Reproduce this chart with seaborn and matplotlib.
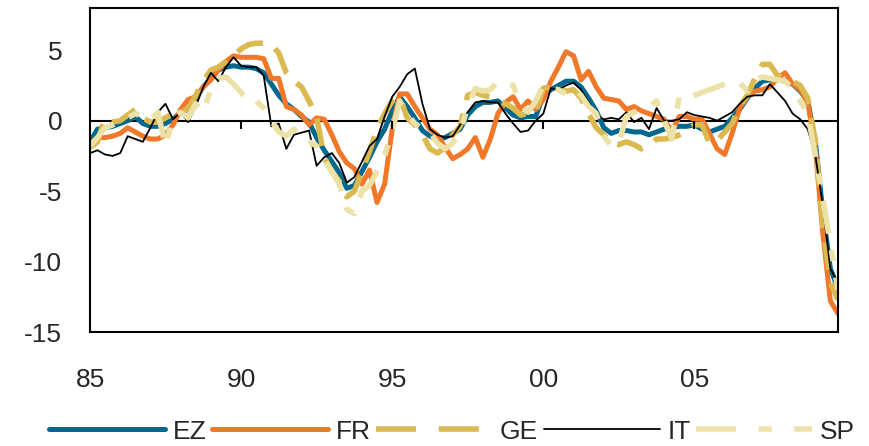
import numpy as np
import pandas as pd
import matplotlib
matplotlib.use('Agg')
import matplotlib.pyplot as plt
from matplotlib.lines import Line2D
import seaborn as sns

# quarterly data, 1985Q1 - 2009Q4
quarters = pd.date_range('1985-01-01', periods=100, freq='QS')
series_names = ['EZ', 'FR', 'GE', 'IT', 'SP']

ez = [-1.5, -0.6, -0.5, -0.4, -0.2, 0.0, 0.3, -0.2, -0.4, -0.4,
      -0.2, 0.1, 0.6, 0.8, 1.6, 2.4, 3.0, 3.6, 3.8, 3.9,
      3.8, 3.8, 3.7, 3.4, 2.6, 1.8, 1.2, 0.8, 0.3, -0.1,
      -1.2, -2.1, -2.9, -3.7, -4.8, -4.6, -3.6, -2.6, -1.5, -0.6,
      0.7, 1.7, 1.0, 0.2, -0.7, -1.1, -1.3, -1.2, -0.9, -0.6,
      0.4, 1.0, 1.3, 1.3, 1.4, 0.9, 0.4, 0.2, 0.3, 0.3,
      1.8, 2.2, 2.5, 2.8, 2.8, 2.4, 1.6, 0.7, -0.5, -0.9,
      -0.7, -0.7, -0.8, -0.8, -1.0, -0.8, -0.6, -0.5, -0.4, -0.4,
      -0.3, -0.6, -0.8, -0.6, -0.4, 0.2, 0.8, 1.6, 2.3, 2.8,
      2.9, 2.9, 2.8, 2.6, 2.1, 1.4, -1.5, -6.5, -10.5, -11.9]

fr = [-1.6, -1.2, -1.2, -1.1, -0.9, -0.5, -0.8, -1.1, -1.3, -1.3,
      -1.0, -0.3, 0.8, 1.5, 1.7, 2.4, 2.9, 3.6, 4.2, 4.6,
      4.5, 4.5, 4.5, 4.4, 3.0, 3.0, 1.0, 0.8, 0.4, -0.3,
      0.2, 0.1, -1.0, -2.2, -3.0, -3.4, -4.5, -3.5, -5.8, -4.5,
      -0.6, 1.9, 1.9, 1.0, 0.2, -0.6, -1.0, -1.9, -2.7, -2.4,
      -2.0, -1.2, -2.6, -1.3, 0.5, 1.3, 1.7, 0.8, 1.4, 0.8,
      1.5, 2.8, 3.8, 4.9, 4.6, 2.9, 3.5, 2.4, 1.6, 1.5,
      1.4, 0.8, 1.0, 0.7, 0.5, 0.3, 0.1, -0.8, 0.3, 0.3,
      0.1, 0.1, -0.9, -2.0, -2.4, -0.9, 0.9, 1.7, 2.1, 2.2,
      2.4, 3.0, 3.4, 2.6, 2.2, 1.3, -2.0, -8.0, -12.8, -13.7]

ge = [-1.9, -1.5, 0.2, -0.1, 0.0, 0.4, 0.8, 0.2, -0.1, -0.1,
      0.2, 0.5, 0.7, 0.8, 1.8, 2.8, 3.6, 3.8, 4.2, 4.6,
      5.1, 5.4, 5.5, 5.5, 5.4, 4.8, 3.4, 2.8, 2.4, 1.4,
      0.3, -2.6, -3.6, -4.3, -5.4, -5.0, -3.6, -2.2, -0.6, 0.5,
      1.4, 1.7, 0.2, -0.3, -1.0, -2.0, -2.3, -1.9, -1.0, -0.4,
      1.8, 2.0, 1.8, 1.7, 1.4, 1.2, 0.9, 0.4, 0.5, 0.6,
      2.3, 2.4, 2.3, 2.1, 2.2, 1.6, 0.5, -0.5, -1.0, -1.6,
      -1.7, -1.5, -1.7, -2.0, -1.8, -1.3, -1.3, -1.2, -1.0, -0.7,
      -0.3, -0.3, -1.6, -1.4, -0.8, -0.2, 1.0, 1.8, 3.0, 4.0,
      4.0, 3.2, 3.0, 2.8, 2.5, 1.6, -1.5, -7.5, -11.5, -12.7]

it = [-2.3, -2.1, -2.4, -2.5, -2.3, -1.1, -1.3, -1.5, -0.5, 0.6,
      1.2, 0.1, 0.6, -0.1, 1.0, 2.4, 3.4, 2.8, 3.8, 4.5,
      3.9, 3.8, 3.8, 3.2, -0.4, -0.2, -2.0, -1.0, -0.85, -0.7,
      -3.2, -2.6, -2.3, -3.0, -4.4, -4.0, -2.9, -1.8, -1.3, 0.3,
      1.7, 2.4, 3.3, 3.7, 1.2, -0.6, -1.0, -1.2, -1.1, -0.3,
      0.6, 1.3, 1.4, 1.3, 1.3, 0.5, -0.2, -0.8, -0.7, 0.0,
      0.5, 2.3, 2.2, 2.5, 2.7, 2.2, 1.3, 0.4, 0.1, 0.2,
      0.1, 0.6, -0.1, 0.2, -0.6, 0.9, 0.0, 0.0, 0.1, 0.6,
      0.4, 0.3, 0.2, 0.0, 0.3, 0.6, 1.2, 1.7, 1.8, 1.8,
      2.6, 2.0, 1.4, 0.5, 0.1, -0.6, -2.5, -6.0, -10.5, -11.5]

sp = [-1.8, -1.2, -0.5, -0.3, 0.0, 0.2, 0.5, 0.3, 0.0, 0.6,
      -1.8, 0.3, 0.6, 0.2, 1.2, 0.6, 2.3, 3.0, 3.1, 2.6,
      2.0, 1.3, 1.4, 0.9, 0.0, -0.8, -1.1, -0.6, -1.4, -1.5,
      -1.8, -2.8, -3.6, -4.5, -6.3, -6.6, -5.0, -4.6, -3.6, -2.5,
      -0.7, 1.4, 0.5, -0.2, -0.6, -0.8, -1.6, -2.0, -1.6, -0.8,
      1.0, 2.3, 2.1, 2.2, 2.8, 2.7, 2.5, 1.2, 0.6, 1.4,
      2.5, 2.3, 2.2, 1.9, 2.3, 1.8, 1.0, 0.5, -1.1, -1.8,
      -1.6, 0.3, 0.6, 0.8, 1.0, 1.4, 0.0, -1.3, 1.7, 1.5,
      1.8, 2.0, 2.2, 2.4, 2.6, 2.8, 2.7, 2.1, 2.9, 3.1,
      3.0, 2.9, 2.8, 2.3, 1.4, 0.5, -2.5, -5.5, -8.8, -12.0]

year_ticks = pd.to_datetime(['1985-01-01', '1990-01-01', '1995-01-01',
                             '2000-01-01', '2005-01-01'])
year_labels = ['85', '90', '95', '00', '05']
y_ticks = [-15, -10, -5, 0, 5]

df = pd.DataFrame({'date': quarters, 'EZ': ez, 'FR': fr, 'GE': ge,
                   'IT': it, 'SP': sp})
df = df.melt(id_vars='date', var_name='series', value_name='value')

styles = {
    'EZ': dict(color='#00688E', lw=3.6, ls='-'),
    'FR': dict(color='#F07828', lw=3.6, ls='-'),
    'GE': dict(color='#DAB950', lw=4.0, ls=(0, (5, 2.5))),
    'IT': dict(color='black', lw=1.3, ls='-'),
    'SP': dict(color='#ECE2A8', lw=4.0, ls=(0, (6, 3, 2, 3))),
}
# legend keys use longer dashes than the plotted lines
legend_styles = dict(styles)
legend_styles['GE'] = dict(color='#DAB950', lw=4.0, ls=(0, (7.2, 4.1)))
legend_styles['SP'] = dict(color='#ECE2A8', lw=4.0, ls=(0, (7.2, 4.1, 2.3, 4.1)))

sns.set_style('white')
plt.rcParams['font.family'] = ['Liberation Sans', 'DejaVu Sans']
plt.rcParams['axes.unicode_minus'] = False

fig = plt.figure(figsize=(8.69, 4.46), dpi=100)
ax = fig.add_axes([0.1036, 0.2556, 0.8607, 0.7265])

for name in series_names:
    sub = df[df['series'] == name]
    sns.lineplot(data=sub, x='date', y='value', ax=ax, **styles[name])

# zero line with small year ticks hanging from it
ax.axhline(0, color='black', lw=1.5, zorder=1)
ax.vlines(year_ticks[1:], -0.6, 0, color='black', lw=1.5)

ax.set_xlim(quarters[0], quarters[-1])
ax.set_ylim(-15, 8)
ax.set_xticks(year_ticks)
ax.set_xticklabels(year_labels)
ax.set_yticks(y_ticks)
ax.set_yticklabels([str(v) for v in y_ticks])
ax.set_xlabel('')
ax.set_ylabel('')
ax.tick_params(axis='x', length=0, pad=26, labelsize=19)
ax.tick_params(axis='y', length=0, pad=20, labelsize=19)

for sp_ in ax.spines.values():
    sp_.set_visible(True)
    sp_.set_color('black')
    sp_.set_linewidth(1.5)

handles = [Line2D([], [], **legend_styles[n]) for n in series_names]
fig.legend(handles, series_names, loc='center', bbox_to_anchor=(0.52, 0.032),
           ncol=5, frameon=False, handlelength=4.4, handletextpad=0.3,
           columnspacing=0.2, fontsize=19)

fig.savefig('out.png', dpi=100)
